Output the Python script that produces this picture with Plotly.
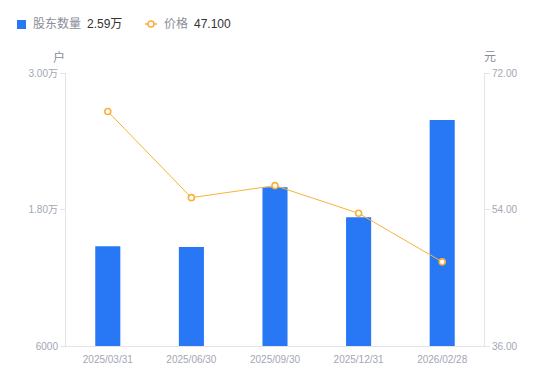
import plotly.graph_objects as go

categories = ["2025/03/31", "2025/06/30", "2025/09/30", "2025/12/31", "2026/02/28"]
holders = [14780, 14700, 19960, 17310, 25860]
prices = [66.93, 55.56, 57.15, 53.50, 47.10]
left_tickvals = [6000, 18000, 30000]
left_ticktext = ["6000", "1.80万", "3.00万"]
right_tickvals = [36, 54, 72]
right_ticktext = ["36.00", "54.00", "72.00"]
holders_latest = "2.59万"
price_latest = "47.100"

FONT = "Liberation Sans, Arial, Noto Sans CJK SC, sans-serif"
TICK_COLOR = "#a3a6b4"
LABEL_COLOR = "#8a8d99"
AXIS_LINE = "#e3e3e8"
BAR_COLOR = "#2878f5"
LINE_COLOR = "#f7b23b"

# page body has an 8px offset; lay out the figure accordingly
OFF = 8
W, H = 550 - OFF, 381 - OFF
PL, PR, PT, PB = 66, 484, 73, 346  # plot area in screen pixels


def px(x):
    return (x - PL) / (PR - PL)


def py(y):
    return (PB - y) / (PB - PT)


fig = go.Figure()
fig.add_trace(go.Bar(
    x=categories, y=holders, yaxis="y", name="股东数量",
    marker=dict(color=BAR_COLOR, line=dict(width=0)), width=0.3,
))
fig.add_trace(go.Scatter(
    x=categories, y=prices, yaxis="y2", mode="lines+markers", name="价格",
    line=dict(color=LINE_COLOR, width=1),
    marker=dict(symbol="circle", size=6, color="white",
                line=dict(color=LINE_COLOR, width=1.6)),
))

legend_y = 24
shapes = [
    dict(type="rect", xref="paper", yref="paper",
         x0=px(17), x1=px(26), y0=py(20), y1=py(29),
         fillcolor=BAR_COLOR, line=dict(width=0)),
    dict(type="line", xref="paper", yref="paper",
         x0=px(145), x1=px(157), y0=py(legend_y), y1=py(legend_y),
         line=dict(color=LINE_COLOR, width=1.5)),
    dict(type="circle", xref="paper", yref="paper",
         x0=px(148), x1=px(154), y0=py(legend_y + 3), y1=py(legend_y - 3),
         fillcolor="white", line=dict(color=LINE_COLOR, width=1.6)),
]


def ann(text, x, y, color, size=12, anchor="left"):
    return dict(text=text, xref="paper", yref="paper", x=px(x), y=py(y),
                xanchor=anchor, yanchor="middle", showarrow=False,
                font=dict(size=size, color=color, family=FONT))


annotations = [
    ann("股东数量", 31, legend_y, LABEL_COLOR),
    ann(holders_latest, 85, legend_y, "#333333"),
    ann("价格", 162, legend_y, LABEL_COLOR),
    ann(price_latest, 192, legend_y, "#333333"),
    ann("户", 59, 57, LABEL_COLOR, anchor="center"),
    ann("元", 490, 57, LABEL_COLOR, anchor="center"),
]

fig.update_layout(
    width=W, height=H,
    margin=dict(l=PL - OFF, r=W - (PR - OFF), t=PT - OFF, b=H - (PB - OFF),
                autoexpand=False),
    paper_bgcolor="white", plot_bgcolor="white",
    font=dict(family=FONT, size=10, color=TICK_COLOR),
    showlegend=False,
    xaxis=dict(
        type="category", showgrid=False, showline=True, linecolor=AXIS_LINE,
        linewidth=1, ticks="", tickfont=dict(size=10, color=TICK_COLOR),
        zeroline=False, ticklabelstandoff=4,
    ),
    yaxis=dict(
        range=[6000, 30000], tickvals=left_tickvals, ticktext=left_ticktext,
        showgrid=False, showline=True, linecolor=AXIS_LINE, linewidth=1,
        ticks="outside", ticklen=5, tickcolor=AXIS_LINE,
        tickfont=dict(size=10, color=TICK_COLOR), zeroline=False,
    ),
    yaxis2=dict(
        range=[36, 72], tickvals=right_tickvals, ticktext=right_ticktext,
        overlaying="y", side="right",
        showgrid=False, showline=True, linecolor=AXIS_LINE, linewidth=1,
        ticks="outside", ticklen=5, tickcolor=AXIS_LINE,
        tickfont=dict(size=10, color=TICK_COLOR), zeroline=False,
    ),
    shapes=shapes,
    annotations=annotations,
)

fig.write_html("out.html")
